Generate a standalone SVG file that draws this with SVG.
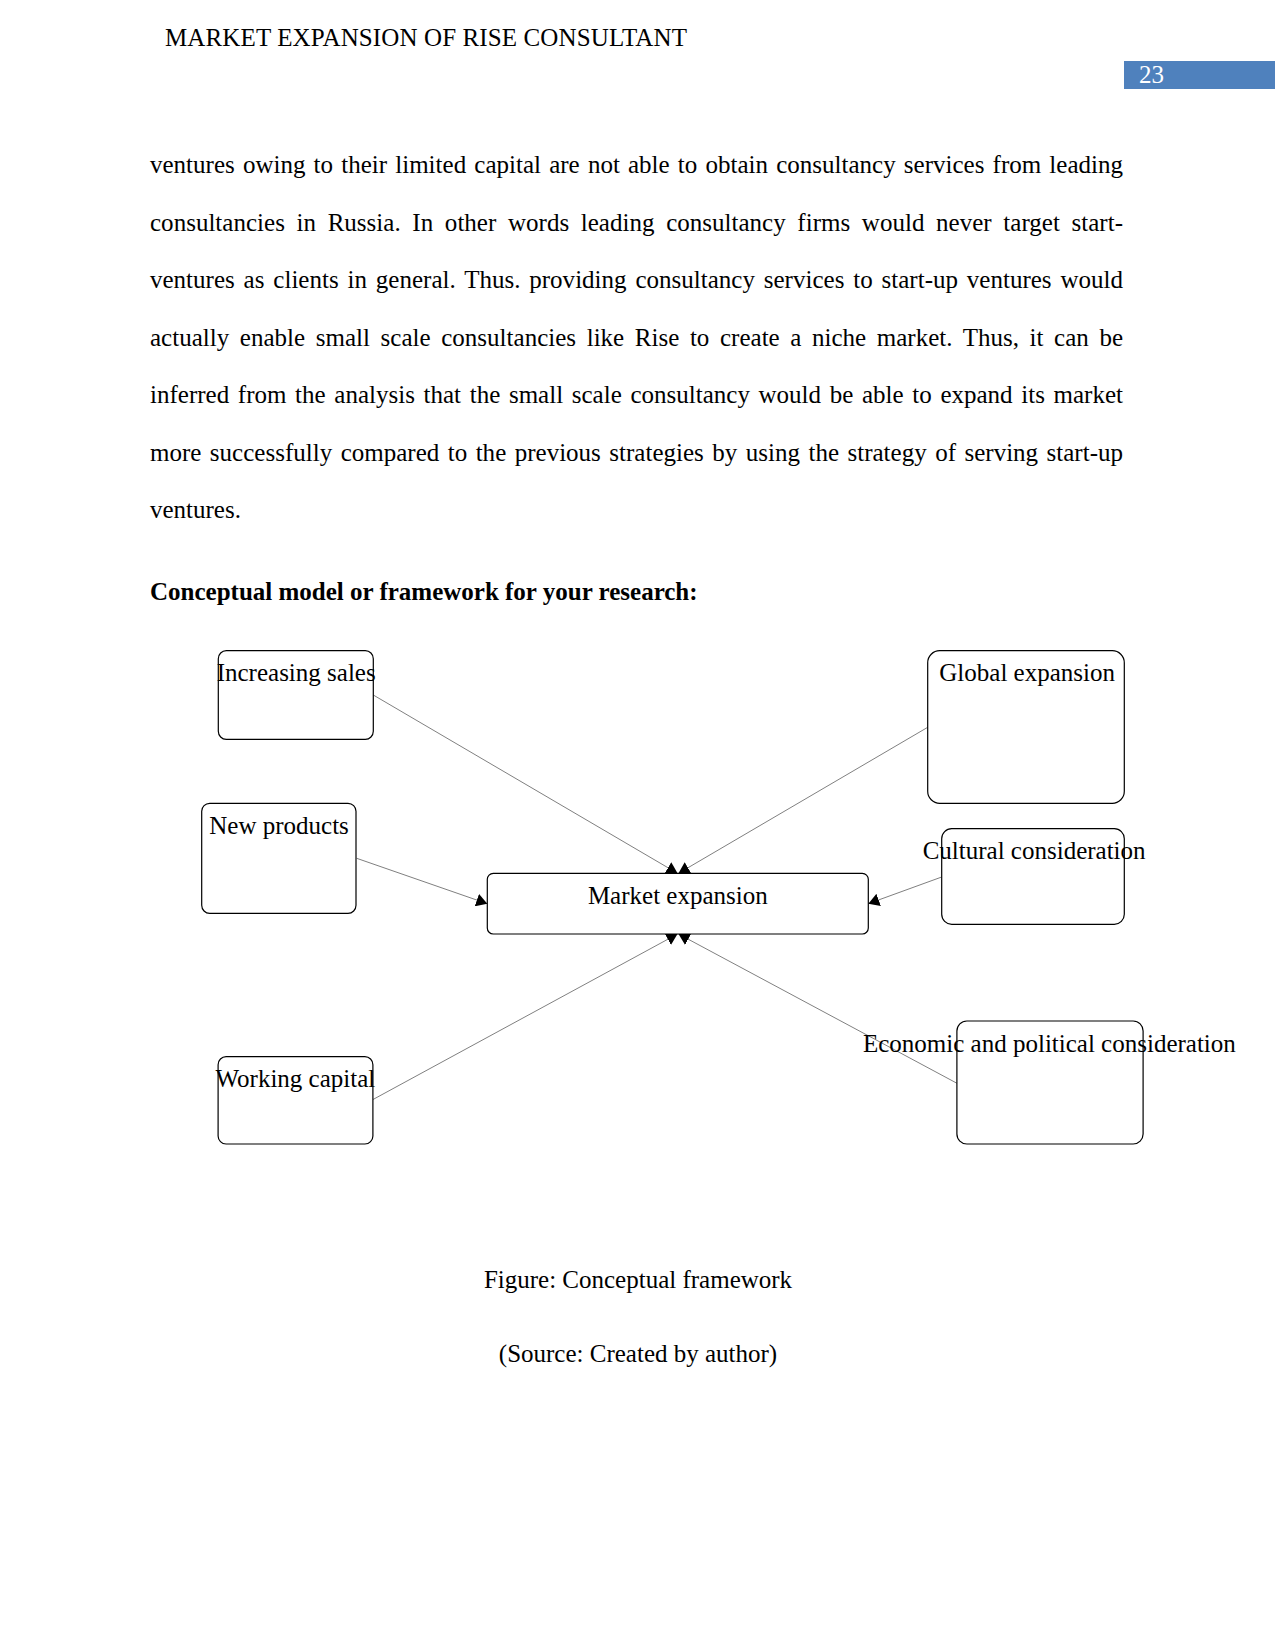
<svg xmlns="http://www.w3.org/2000/svg" width="1275" height="1651" viewBox="0 0 1275 1651">
<style>
text{font-family:"Liberation Serif","Times New Roman",serif;font-size:25px;fill:#000}
.b{font-weight:bold}
.box{fill:#fff;stroke:#000;stroke-width:1.2}
.con{stroke:#808080;stroke-width:1;fill:none;marker-end:url(#arr)}
</style>
<defs>
<marker id="arr" markerUnits="userSpaceOnUse" viewBox="0 0 11 13" refX="11" refY="6.5" markerWidth="11" markerHeight="13" orient="auto">
<path d="M0,0 L11,6.5 L0,13 z" fill="#000"/>
</marker>
</defs>
<rect width="1275" height="1651" fill="#fff"/>
<text x="165" y="46" textLength="522" lengthAdjust="spacing">MARKET EXPANSION OF RISE CONSULTANT</text>
<rect x="1124" y="61" width="151" height="28" fill="#4F81BD"/>
<text x="1139" y="83" style="fill:#fff">23</text>
<g id="body">
<text x="150" y="173" word-spacing="1.9" textLength="973" lengthAdjust="spacing">ventures owing to their limited capital are not able to obtain consultancy services from leading</text>
<text x="150" y="230.5" word-spacing="5.4" textLength="973" lengthAdjust="spacing">consultancies in Russia. In other words leading consultancy firms would never target start-</text>
<text x="150" y="288" word-spacing="2.6" textLength="973" lengthAdjust="spacing">ventures as clients in general. Thus. providing consultancy services to start-up ventures would</text>
<text x="150" y="345.5" word-spacing="4.3" textLength="973" lengthAdjust="spacing">actually enable small scale consultancies like Rise to create a niche market. Thus, it can be</text>
<text x="150" y="403" word-spacing="2.4" textLength="973" lengthAdjust="spacing">inferred from the analysis that the small scale consultancy would be able to expand its market</text>
<text x="150" y="460.5" word-spacing="2.2" textLength="973" lengthAdjust="spacing">more successfully compared to the previous strategies by using the strategy of serving start-up</text>
<text x="150" y="518">ventures.</text>
<text class="b" x="150" y="600">Conceptual model or framework for your research:</text>
</g>
<g id="connectors">
<line class="con" x1="373.3" y1="695" x2="677.5" y2="873.3"/>
<line class="con" x1="356.7" y1="858.3" x2="487.3" y2="903.7"/>
<line class="con" x1="927.7" y1="727.3" x2="678.5" y2="873.3"/>
<line class="con" x1="941.7" y1="877" x2="868.3" y2="903.7"/>
<line class="con" x1="373" y1="1099.5" x2="677.5" y2="934"/>
<line class="con" x1="957" y1="1083.3" x2="678.5" y2="934"/>
</g>
<g id="node-increasing-sales">
<rect class="box" x="218.3" y="650.7" width="155" height="88.6" rx="8"/>
<text x="216.7" y="681">Increasing sales</text>
</g>
<g id="node-new-products">
<rect class="box" x="201.7" y="803.3" width="154.3" height="110" rx="8"/>
<text x="209.3" y="834">New products</text>
</g>
<g id="node-market-expansion">
<rect class="box" x="487.3" y="873.3" width="381" height="60.7" rx="6"/>
<text x="677.8" y="904" text-anchor="middle">Market expansion</text>
</g>
<g id="node-global-expansion">
<rect class="box" x="927.7" y="650.7" width="196.6" height="152.6" rx="12"/>
<text x="939.3" y="681">Global expansion</text>
</g>
<g id="node-cultural">
<rect class="box" x="941.7" y="828.7" width="182.6" height="95.6" rx="10"/>
<text x="922.7" y="859">Cultural consideration</text>
</g>
<g id="node-working-capital">
<rect class="box" x="218.1" y="1056.7" width="154.8" height="87.3" rx="8"/>
<text x="215.5" y="1087">Working capital</text>
</g>
<g id="node-economic">
<rect class="box" x="956.9" y="1021" width="186.2" height="123" rx="10"/>
<text x="863" y="1051.5">Economic and political consideration</text>
</g>
<text x="638" y="1288" text-anchor="middle">Figure: Conceptual framework</text>
<text x="638" y="1362" text-anchor="middle">(Source: Created by author)</text>
</svg>
